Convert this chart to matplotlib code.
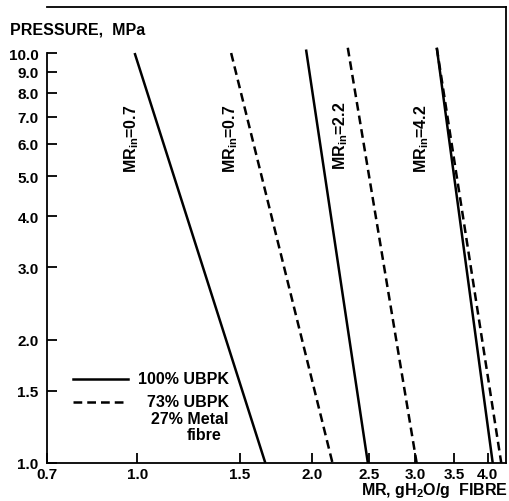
import matplotlib
matplotlib.use("Agg")
import matplotlib.pyplot as plt
from matplotlib.lines import Line2D

plt.rcParams['font.family'] = ['Liberation Sans', 'DejaVu Sans']
plt.rcParams['font.weight'] = 'bold'
plt.rcParams['mathtext.fontset'] = 'custom'
plt.rcParams['mathtext.rm'] = 'Liberation Sans:bold'
plt.rcParams['mathtext.it'] = 'Liberation Sans:bold'
plt.rcParams['mathtext.bf'] = 'Liberation Sans:bold'

# pressure end points of each line (MPa)
pressure = [10.0, 1.0]

# 100% UBPK (solid), MR at P=10 and P=1
solid_07 = [0.99, 1.66]
solid_22 = [1.95, 2.49]
solid_42 = [3.27, 4.08]
solid_p = [[10.0, 1.0], [10.2, 1.0], [10.3, 1.0]]

# 73% UBPK / 27% metal fibre (dashed)
dash_07 = [1.45, 2.165]
dash_22 = [2.30, 3.02]
dash_42 = [3.27, 4.22]
dash_p = [[10.0, 1.0], [10.3, 1.0], [10.3, 1.0]]

xticks = [0.7, 1.0, 1.5, 2.0, 2.5, 3.0, 3.5, 4.0]
yticks = [1.0, 1.5, 2.0, 3.0, 4.0, 5.0, 6.0, 7.0, 8.0, 9.0, 10.0]

W, H = 510, 502
fig = plt.figure(figsize=(W / 100, H / 100), dpi=100)
ax = fig.add_axes([47 / W, 38 / H, (506 - 47) / W, (464 - 8) / H])

for xs, ps in zip([solid_07, solid_22, solid_42], solid_p):
    ax.plot(xs, ps, color='black', lw=1.8, solid_capstyle='butt')
for xs, ps in zip([dash_07, dash_22, dash_42], dash_p):
    ax.plot(xs, ps, color='black', lw=1.8, dashes=(3.5, 2.0))

ax.set_xscale('log')
ax.set_yscale('log')
ax.set_xlim(0.7, 4.30)
ax.set_ylim(1.0, 12.95)
ax.minorticks_off()
ax.set_xticks(xticks)
ax.set_xticklabels(['%.1f' % v for v in xticks])
ax.set_yticks(yticks)
ax.set_yticklabels(['%.1f' % v for v in yticks])
ax.tick_params(direction='in', length=7, width=1.3, labelsize=11, pad=3)
ax.tick_params(axis='y', pad=6)
ax.spines['left'].set_bounds(1.0, 10.0)
for s in ax.spines.values():
    s.set_linewidth(1.3)

rot = dict(rotation=90, ha='center', va='center', fontsize=11.5)
ax.text(0.98, 6.2, 'MR$_{in}$=0.7', **rot)
ax.text(1.45, 6.2, 'MR$_{in}$=0.7', **rot)
ax.text(2.24, 6.3, 'MR$_{in}$=2.2', **rot)
ax.text(3.08, 6.2, 'MR$_{in}$=4.2', **rot)

fig.text(10 / W, 1 - 30 / H, 'PRESSURE,  MPa', fontsize=11.5, va='center', ha='left')
fig.text(508 / W, 1 - 491 / H, 'MR, gH$_{2}$O/g  FIBRE', fontsize=11.5,
         va='center', ha='right')

# legend
fig.add_artist(Line2D([73 / W, 128 / W], [1 - 380 / H] * 2, color='black', lw=1.8))
fig.add_artist(Line2D([73 / W, 128 / W], [1 - 403 / H] * 2, color='black', lw=1.8,
                      dashes=(3.5, 2.0)))
fig.text(229 / W, 1 - 380 / H, '100% UBPK', fontsize=11.5, ha='right', va='center')
fig.text(229 / W, 1 - 403 / H, '73% UBPK', fontsize=11.5, ha='right', va='center')
fig.text(229 / W, 1 - 420 / H, '27% Metal', fontsize=11.5, ha='right', va='center')
fig.text(222 / W, 1 - 436 / H, 'fibre', fontsize=11.5, ha='right', va='center')

fig.savefig('out.png', dpi=100)
